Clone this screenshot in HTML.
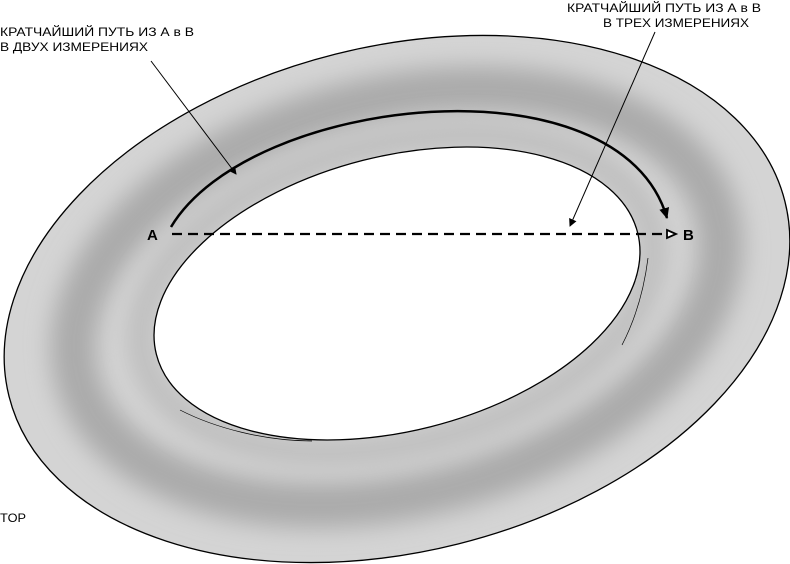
<!DOCTYPE html>
<html><head><meta charset="utf-8"><style>
html,body{margin:0;padding:0;background:#fff;width:790px;height:564px;overflow:hidden}
text{font-family:"Liberation Sans","DejaVu Sans",sans-serif}
</style></head><body>
<svg width="790" height="564" viewBox="0 0 790 564" xmlns="http://www.w3.org/2000/svg" style="display:block">
<defs>
<filter id="bl" x="-20%" y="-20%" width="140%" height="140%"><feGaussianBlur stdDeviation="12"/></filter>
<mask id="hole"><rect width="790" height="564" fill="#fff"/><ellipse cx="397" cy="293.5" rx="248.2" ry="137.4" transform="rotate(-14.2 397 293.5)" fill="#000"/></mask>
<marker id="ah" markerWidth="8" markerHeight="8" refX="7" refY="4" orient="auto" markerUnits="userSpaceOnUse"><path d="M0,0L8,4L0,8Z" fill="#000"/></marker>
<marker id="ah2" markerWidth="12" markerHeight="12" refX="10" refY="6" orient="auto" markerUnits="userSpaceOnUse"><path d="M0,1L11,6L0,11Z" fill="#000"/></marker>
</defs>
<g mask="url(#hole)">
<ellipse cx="397" cy="299" rx="400" ry="252.5" transform="rotate(-14.1 397 299)" fill="#d4d4d4"/>
<ellipse cx="397" cy="297" rx="330" ry="198" transform="rotate(-14.1 397 297)" fill="none" stroke="#aaaaaa" stroke-width="45" filter="url(#bl)"/>
<ellipse cx="397" cy="294" rx="262" ry="150" transform="rotate(-14.2 397 294)" fill="none" stroke="#bcbcbc" stroke-width="25" filter="url(#bl)"/>
</g>
<ellipse cx="397" cy="299" rx="400" ry="252.5" transform="rotate(-14.1 397 299)" fill="none" stroke="#000" stroke-width="1.3"/>
<ellipse cx="397" cy="293.5" rx="248.2" ry="137.4" transform="rotate(-14.2 397 293.5)" fill="#fff" stroke="#000" stroke-width="1.3"/>
<path d="M648,258 C644,290 636,318 622,345" fill="none" stroke="#000" stroke-width="0.7"/>
<path d="M180,410 C215,428 265,441 312,441" fill="none" stroke="#000" stroke-width="0.7"/>
<path d="M171,227 C250,95 620,55 667,218" fill="none" stroke="#000" stroke-width="2.5" marker-end="url(#ah2)"/>
<line x1="172" y1="234" x2="668" y2="234" stroke="#000" stroke-width="2.2" stroke-dasharray="10,6"/>
<path d="M667,230 L676,234 L667,238 Z" fill="#fff" stroke="#000" stroke-width="1.8"/>
<line x1="151" y1="61" x2="236" y2="174" stroke="#000" stroke-width="1" marker-end="url(#ah)"/>
<line x1="655" y1="32" x2="570" y2="226" stroke="#000" stroke-width="1" marker-end="url(#ah)"/>
<text x="147" y="240" font-size="15" font-weight="bold">A</text>
<text x="683" y="240" font-size="15" font-weight="bold">B</text>
<text x="0" y="36" font-size="12" textLength="194" lengthAdjust="spacingAndGlyphs">КРАТЧАЙШИЙ ПУТЬ ИЗ А в В</text>
<text x="0" y="51" font-size="12" textLength="148" lengthAdjust="spacingAndGlyphs">В ДВУХ ИЗМЕРЕНИЯХ</text>
<text x="567" y="12" font-size="12" textLength="194" lengthAdjust="spacingAndGlyphs">КРАТЧАЙШИЙ ПУТЬ ИЗ А в В</text>
<text x="603" y="27" font-size="12" textLength="146" lengthAdjust="spacingAndGlyphs">В ТРЕХ ИЗМЕРЕНИЯХ</text>
<text x="0" y="522" font-size="12" textLength="26" lengthAdjust="spacingAndGlyphs">TOP</text>
</svg>
</body></html>
